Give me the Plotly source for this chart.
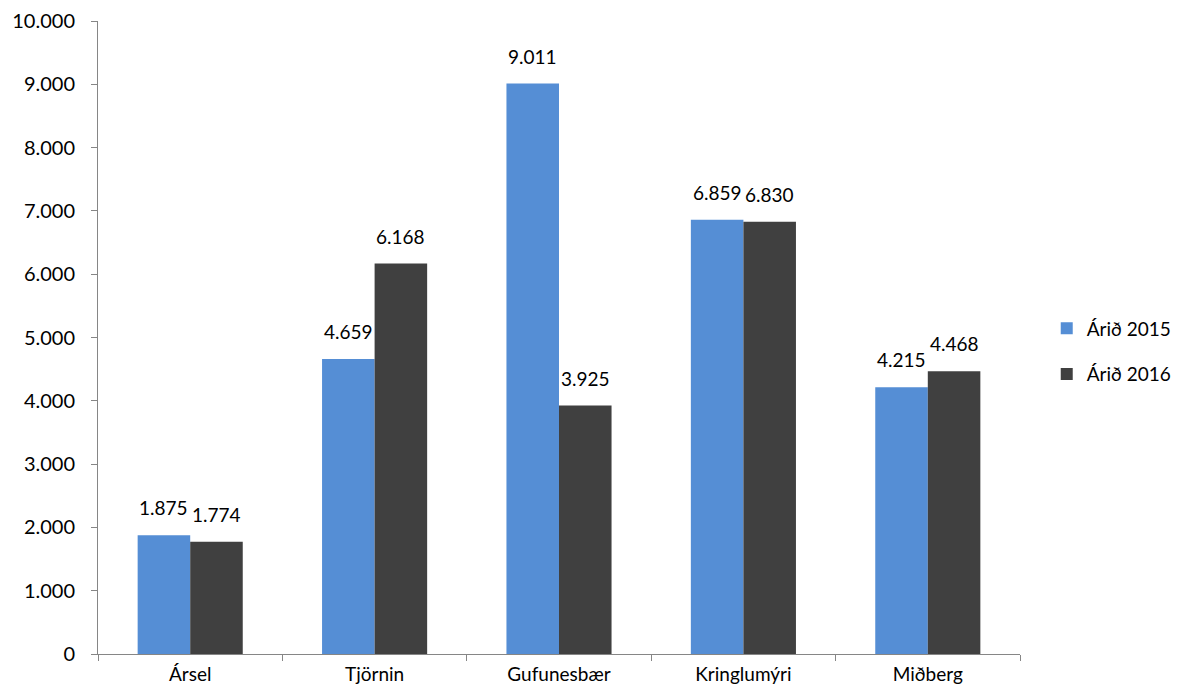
import plotly.graph_objects as go

categories = ["Ársel", "Tjörnin", "Gufunesbær", "Kringlumýri", "Miðberg"]
values_2015 = [1875, 4659, 9011, 6859, 4215]
values_2016 = [1774, 6168, 3925, 6830, 4468]
series_names = ["Árið 2015", "Árið 2016"]
series_colors = ["#558ed5", "#404040"]
y_ticks = [0, 1000, 2000, 3000, 4000, 5000, 6000, 7000, 8000, 9000, 10000]

FONT = "Lato, 'Open Sans', sans-serif"
BARGAP = 0.43
ML, MR, MT, MB = 90, 171, 13, 51
PLOT_W = 1183 - ML - MR

fig = go.Figure()
for i, (name, vals, col) in enumerate(zip(series_names, [values_2015, values_2016], series_colors)):
    fig.add_trace(go.Bar(x=categories, y=vals, name=name, legendgroup=name,
                         marker=dict(color=col, line=dict(width=0))))

# data labels placed above each bar
cat_px = PLOT_W / len(categories)
bar_px = cat_px * (1 - BARGAP) / 2
annotations = []
for i, vals in enumerate([values_2015, values_2016]):
    shift = (i - 0.5) * bar_px
    for c, v in zip(categories, vals):
        annotations.append(dict(
            x=c, y=v, xref="x", yref="y", text=f"{v:,}".replace(",", "."),
            showarrow=False, xshift=shift, yanchor="bottom", yshift=14,
            font=dict(family=FONT, size=19, color="#000000")))

fig.update_layout(
    width=1183, height=697,
    barmode="group", bargap=BARGAP, bargroupgap=0,
    separators=",.",
    paper_bgcolor="white", plot_bgcolor="white",
    font=dict(family=FONT, size=19, color="#000000"),
    margin=dict(l=ML, r=MR, t=MT, b=MB),
    showlegend=True,
    legend=dict(x=1.029, y=0.478, xanchor="left", yanchor="middle",
                font=dict(size=19), tracegroupgap=18, itemwidth=30),
    annotations=annotations,
    xaxis=dict(showline=True, linecolor="#868686", linewidth=1,
               ticks="outside", tickson="boundaries", ticklen=6, tickcolor="#868686",
               ticklabelstandoff=3,
               showgrid=False, tickfont=dict(size=19), automargin=False),
    yaxis=dict(range=[0, 10000], tickvals=y_ticks, tickformat=",",
               showline=True, linecolor="#868686", linewidth=1,
               ticks="outside", ticklen=6, tickcolor="#868686",
               ticklabelstandoff=12, ticklabeloverflow="allow",
               showgrid=False, zeroline=False, tickfont=dict(size=20), automargin=False),
)

fig.write_html("out.html")
